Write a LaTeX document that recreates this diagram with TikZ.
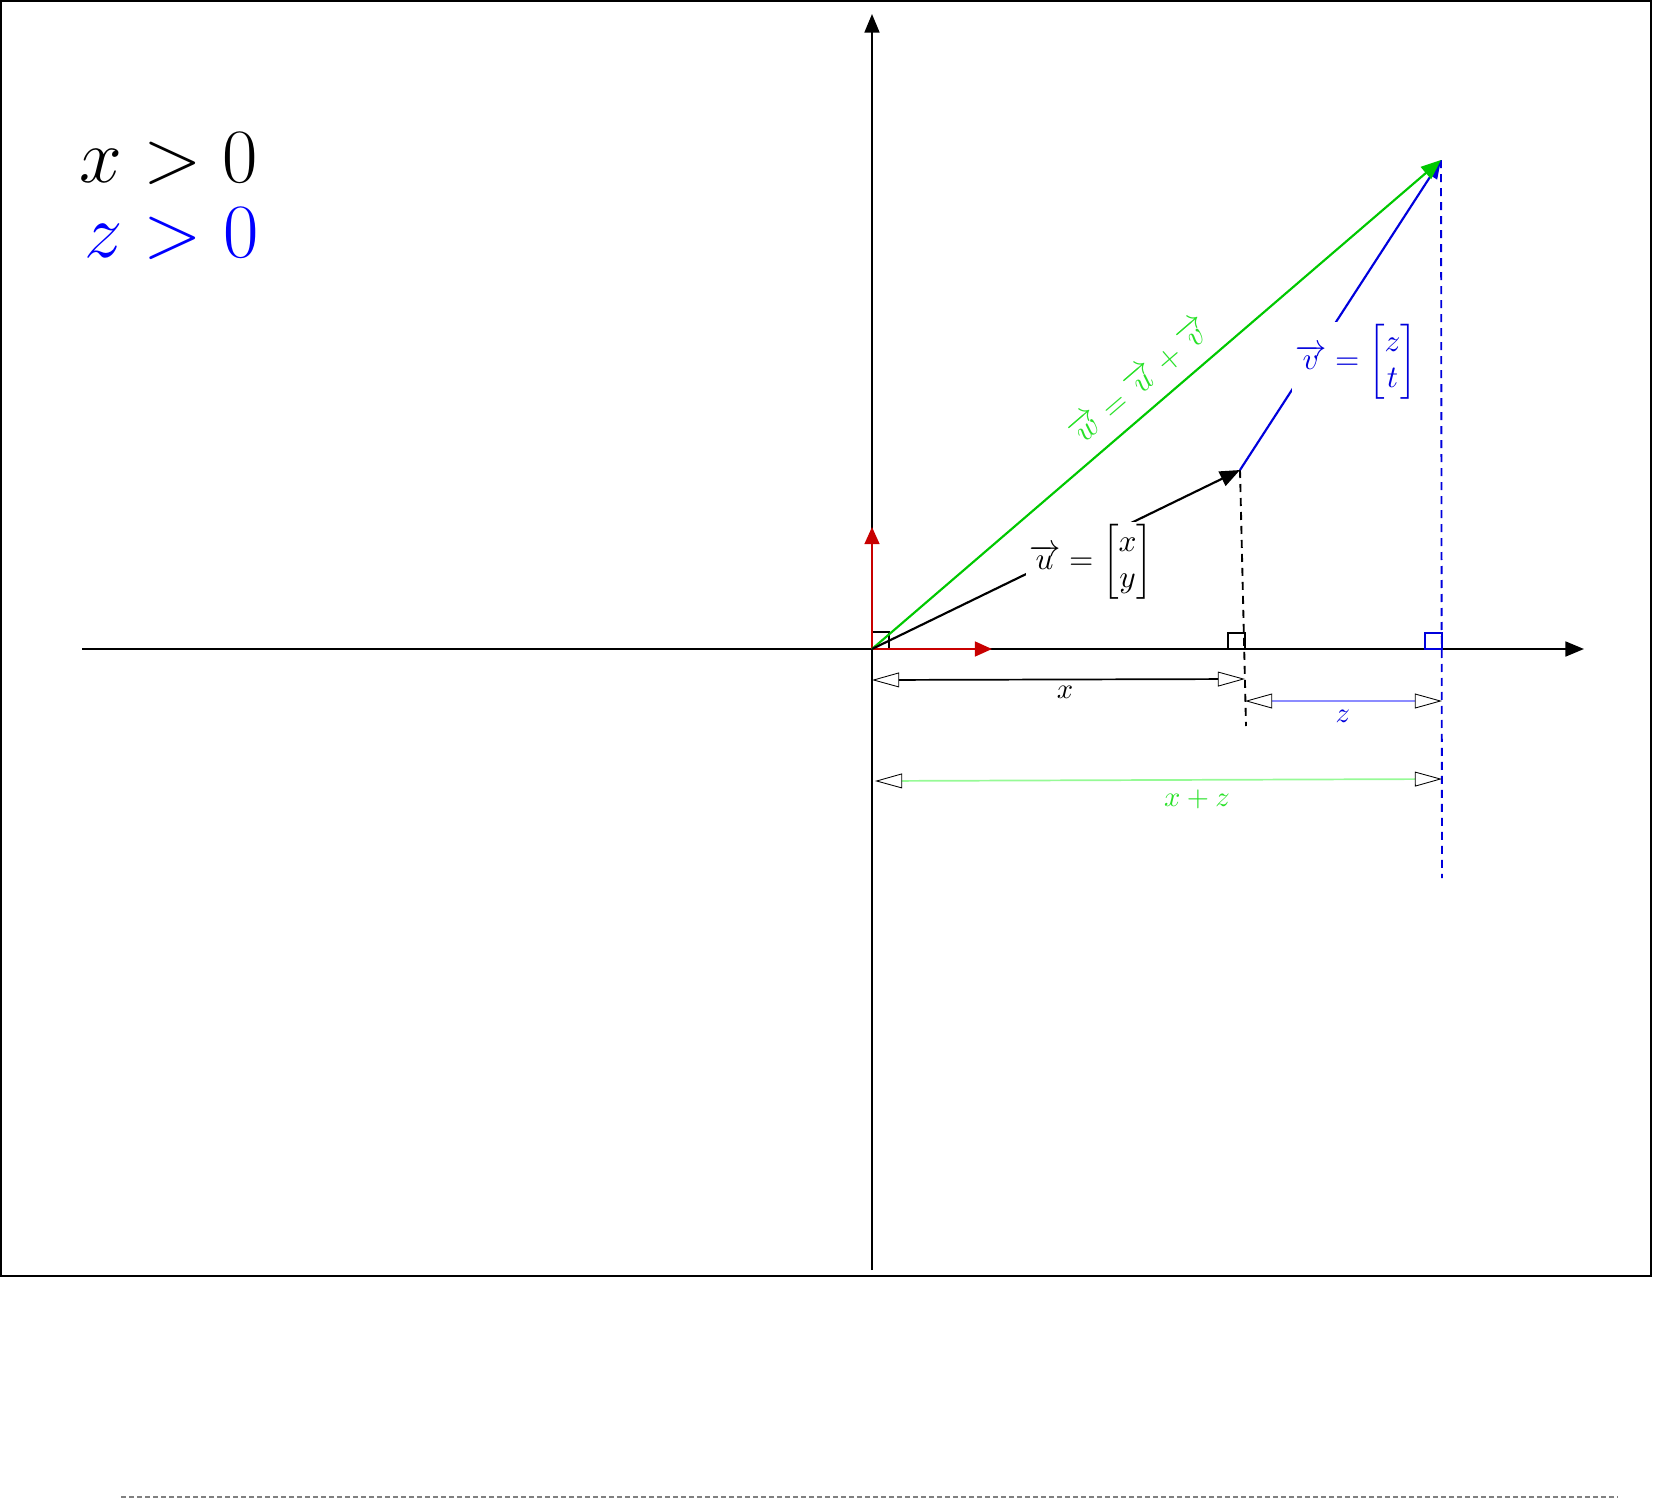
\documentclass[tikz,border=0pt]{standalone}
\usepackage{graphicx}
\usepackage{amsmath}
\usetikzlibrary{arrows.meta}
\definecolor{vgreen}{RGB}{0,200,0}
\definecolor{tgreen}{RGB}{40,225,40}
\definecolor{vblue}{RGB}{0,0,220}
\definecolor{vred}{RGB}{200,0,0}
\definecolor{lblue}{RGB}{140,140,255}
\definecolor{lgreen}{RGB}{150,250,150}
\begin{document}
\begin{tikzpicture}[x=0.35pt,y=-0.35pt,
  axis/.style={line width=0.75pt,-{Triangle[length=6.5pt,width=5.2pt]}},
  vecline/.style={line width=0.75pt},
  dimline/.style={line width=0.6pt,
    {Triangle[open,length=9.5pt,width=5.2pt,color=black,line width=0.3pt]}-{Triangle[open,length=9.5pt,width=5.2pt,color=black,line width=0.3pt]}},
  proj/.style={line width=0.65pt,dash pattern=on 2.8pt off 2.1pt},
  rtbox/.style={line width=0.65pt},
  lab/.style={fill=white,inner sep=1pt,font=\fontsize{10.5}{12.6}\selectfont},
  big/.style={anchor=base west,font=\Huge}]
\useasboundingbox (0,0) rectangle (1653,1499);
\draw[line width=0.9pt] (1,1) rectangle (1651,1276);
\draw[gray,line width=0.6pt,dash pattern=on 1.6pt off 1.2pt] (121,1497) -- (1618,1497);

% axes
\coordinate (O) at (872,649);
\coordinate (XL) at (82,649);
\coordinate (XR) at (1584,649);
\coordinate (YB) at (872,1270);
\coordinate (YT) at (872,14);
\draw[axis] (XL) -- (XR);
\draw[axis] (YB) -- (YT);

% right-angle boxes
\draw[rtbox] (872,632) rectangle (889,649);
\draw[rtbox] (1228,633) rectangle (1245,649);
\draw[rtbox,vblue] (1425,633) rectangle (1442,649);

% projections
\coordinate (U) at (1240,470);
\coordinate (W) at (1441,160);
\coordinate (UP) at (1246,726);
\coordinate (WP) at (1442,878);
\draw[proj] (U) -- (UP);
\draw[proj,vblue] (W) -- (WP);

% basis vectors
\coordinate (E1) at (992,649);
\coordinate (E2) at (872,527);
\draw[vecline,vred,-{Triangle[length=6pt,width=5.2pt]}] (O) -- (E1);
\draw[vecline,vred,-{Triangle[length=6pt,width=5.2pt]}] (O) -- (E2);

% vectors
\draw[vecline,vblue,-{Triangle[length=6.5pt,width=5pt]}] (U) -- (W);
\draw[vecline,vgreen,-{Triangle[length=7pt,width=5.5pt]}] (O) -- (W);
\draw[vecline,-{Triangle[length=7pt,width=5.5pt]}] (O) -- (U);

% labels on vectors
\node[lab] (ul) at (1091,562) {$\overrightarrow{u} = \begin{bmatrix} x\\ y\end{bmatrix}$};
\node[lab,text=vblue] (vl) at (1356,362) {$\overrightarrow{v} = \begin{bmatrix} z\\ t\end{bmatrix}$};
\node[text=tgreen,rotate=40.7,font=\fontsize{10.5}{12.6}\selectfont] (wl) at (1140,381) {$\overrightarrow{w} = \overrightarrow{u} + \overrightarrow{v}$};

% big conditions
\node[big] (c1) at (69,182) {\scalebox{1.08}{$x > 0$}};
\node[big,text=blue] (c2) at (74,257) {\scalebox{1.08}{$z > 0$}};

% dimensions
\coordinate (D1a) at (872,680);
\coordinate (D1b) at (1245,679);
\coordinate (D2a) at (1245,701);
\coordinate (D2b) at (1442,701);
\coordinate (D3a) at (875,781);
\coordinate (D3b) at (1442,779);
\draw[dimline] (D1a) -- (D1b);
\draw[dimline,lblue] (D2a) -- (D2b);
\draw[dimline,lgreen] (D3a) -- (D3b);
\node (dx) at (1065,692) {$x$};
\node[text=vblue] (dz) at (1343,716) {$z$};
\node[text=tgreen] (dxz) at (1197,799) {$x+z$};
\end{tikzpicture}
\end{document}
